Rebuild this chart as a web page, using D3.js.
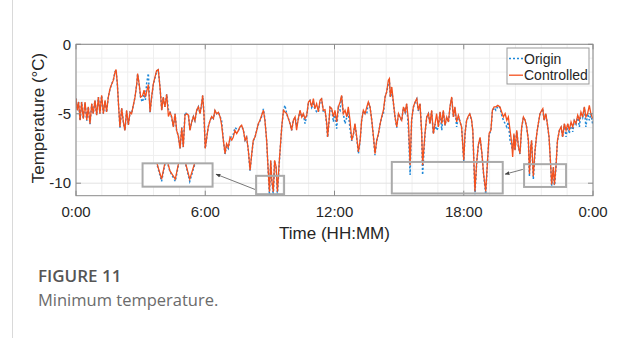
<!DOCTYPE html>
<html><head><meta charset="utf-8">
<script src="https://cdn.jsdelivr.net/npm/d3@7"></script>
<style>body{margin:0;background:#fff} svg{display:block}</style>
</head><body>
<svg id="c" width="622" height="338"></svg>
<script>
// ---- data (hours of day, °C) ----
const timeHours = [0.00,0.06,0.12,0.19,0.26,0.34,0.42,0.50,0.57,0.65,0.73,0.80,0.88,0.96,1.04,1.11,1.19,1.27,1.35,1.42,1.50,1.58,1.66,1.73,1.81,1.86,1.92,1.98,2.04,2.12,2.20,2.27,2.35,2.43,2.51,2.58,2.66,2.74,2.82,2.86,2.94,3.00,3.09,3.16,3.22,3.28,3.36,3.44,3.51,3.59,3.67,3.74,3.82,3.90,3.98,4.05,4.13,4.21,4.29,4.36,4.44,4.52,4.60,4.67,4.75,4.83,4.91,4.98,5.06,5.14,5.22,5.29,5.37,5.45,5.52,5.60,5.68,5.76,5.83,5.88,5.94,6.00,6.07,6.14,6.22,6.30,6.38,6.45,6.53,6.61,6.69,6.76,6.84,6.92,6.99,7.07,7.15,7.23,7.30,7.38,7.46,7.54,
7.61,7.69,7.77,7.85,7.92,8.00,8.08,8.16,8.23,8.31,8.39,8.46,8.54,8.62,8.70,8.77,8.85,8.93,8.98,9.04,9.09,9.16,9.22,9.29,9.35,9.44,9.55,9.63,9.70,9.78,9.86,9.94,10.01,10.09,10.17,10.24,10.32,10.40,10.48,10.55,10.63,10.71,10.79,10.86,10.94,11.02,11.09,11.17,11.25,11.33,11.40,11.48,11.56,11.64,11.68,11.75,11.79,
11.87,11.95,12.02,12.10,12.18,12.26,12.33,12.41,12.49,12.57,12.64,12.72,12.80,12.88,12.95,13.03,13.11,13.19,13.26,13.34,13.42,13.50,13.57,13.65,13.73,13.81,13.88,13.96,14.04,14.12,14.19,14.27,14.35,14.42,14.50,14.55,14.59,14.66,14.74,14.81,14.89,14.97,15.04,15.12,15.20,15.28,15.35,15.43,
15.51,15.58,15.66,15.74,15.82,15.89,15.97,16.05,16.09,16.20,16.28,16.36,16.43,16.51,16.59,16.67,16.74,16.82,16.90,16.98,17.05,17.13,17.21,17.29,17.36,17.44,17.52,17.59,17.67,17.75,17.83,17.90,17.94,18.00,18.06,18.13,18.20,18.28,18.36,18.42,18.52,18.60,18.68,18.76,18.84,18.92,19.02,19.10,19.18,19.26,19.33,19.41,19.49,19.58,
19.68,19.76,19.84,19.92,20.00,20.07,20.15,20.23,20.27,20.33,20.38,20.46,20.54,20.61,20.69,20.77,20.85,20.92,21.00,21.05,21.11,21.15,21.23,21.31,21.39,21.46,21.54,21.62,21.67,21.73,21.81,21.88,21.96,22.04,22.08,22.16,22.21,22.28,22.35,22.44,22.52,22.59,22.67,22.75,22.83,22.90,22.98,23.06,23.13,23.21,23.29,23.37,23.44,23.52,23.60,23.67,23.75,23.83,23.90,23.98];

const controlled = [-3.90,-4.75,-4.15,-5.47,-4.15,-5.35,-4.15,-5.47,-4.50,-5.71,-4.27,-5.00,-4.03,-5.10,-3.80,-5.00,-3.67,-5.00,-4.03,-4.87,-3.80,-3.20,-2.85,-2.60,-2.00,-1.82,-2.85,-4.50,-5.95,-4.60,-5.60,-6.20,-4.75,-5.80,-4.90,-5.00,-4.40,-3.80,-2.85,-2.10,-2.95,-3.80,-3.70,-3.30,-3.80,-3.40,-2.90,-4.87,-3.80,-2.85,-2.35,-1.90,-1.82,-3.10,-4.75,-3.80,-4.50,-3.60,-5.20,-4.90,-5.20,-5.95,-5.00,-6.20,-6.60,-7.50,-6.00,-7.40,-5.10,-5.00,-5.10,-6.20,-5.60,-5.20,-5.50,-4.75,-4.50,-5.00,-4.30,-3.67,-5.00,-7.50,-6.70,-5.95,-5.50,-5.20,-5.35,-4.75,-5.00,-4.90,-5.23,-5.80,-6.90,-7.87,-7.15,-7.40,-6.70,-6.90,-6.70,-6.20,-6.43,-6.20,
-5.95,-5.83,-6.19,-6.90,-6.67,-7.63,-9.06,-7.87,-6.91,-6.67,-6.19,-5.71,-5.47,-5.11,-4.75,-5.47,-6.91,-9.30,-10.62,-8.35,-9.78,-10.62,-8.35,-8.83,-10.62,-8.35,-5.95,-4.75,-4.87,-4.99,-5.35,-5.71,-6.19,-5.47,-5.23,-6.19,-5.35,-4.75,-5.23,-4.99,-5.35,-5.11,-4.15,-4.03,-4.51,-3.91,-4.63,-4.27,-4.87,-4.03,-3.91,-4.75,-4.70,-5.71,-6.67,-5.47,-4.51,
-4.63,-5.23,-4.75,-5.59,-4.51,-4.15,-3.67,-4.99,-4.75,-5.23,-4.51,-5.47,-6.91,-6.43,-5.71,-6.67,-7.75,-6.91,-5.47,-4.75,-4.99,-4.51,-4.15,-4.51,-5.47,-6.67,-7.87,-6.91,-6.43,-5.71,-5.23,-4.75,-3.79,-3.43,-2.59,-2.47,-3.79,-3.07,-4.27,-5.23,-5.95,-4.99,-5.23,-5.47,-4.51,-4.87,-4.27,-5.47,
-8.70,-5.47,-4.51,-4.15,-3.91,-4.75,-4.27,-6.43,-8.70,-6.43,-5.23,-4.99,-5.71,-4.75,-6.43,-5.71,-4.99,-5.95,-4.87,-5.71,-4.75,-5.83,-5.23,-5.59,-4.51,-3.79,-5.23,-4.51,-5.59,-5.11,-5.59,-5.95,-6.90,-8.35,-6.40,-5.50,-5.20,-5.00,-5.40,-6.20,-10.60,-8.50,-7.20,-6.70,-7.80,-9.30,-10.60,-8.50,-6.40,-6.20,-4.75,-4.50,-4.50,-4.40,
-4.51,-4.87,-5.23,-4.99,-5.47,-5.23,-6.19,-7.15,-8.11,-6.43,-7.63,-6.19,-7.39,-7.87,-5.95,-5.23,-5.47,-5.95,-6.91,-9.31,-7.39,-6.91,-9.50,-7.63,-6.43,-5.71,-4.99,-4.75,-4.63,-5.47,-4.99,-5.71,-6.67,-8.83,-10.10,-8.83,-10.10,-8.83,-6.91,-6.19,-5.95,-6.67,-5.71,-6.19,-5.71,-6.19,-5.59,-5.95,-5.47,-5.71,-5.11,-5.47,-4.87,-5.23,-4.51,-5.23,-4.99,-4.39,-4.99,-5.35];

const origin = [-3.90,-4.75,-4.15,-5.50,-4.15,-5.35,-4.20,-5.50,-4.50,-5.75,-4.30,-5.00,-4.05,-5.10,-3.80,-5.00,-3.70,-5.00,-4.05,-4.90,-3.80,-3.20,-2.85,-2.60,-2.00,-1.85,-2.90,-4.50,-6.00,-4.60,-5.60,-6.20,-4.80,-5.80,-4.90,-5.00,-4.40,-3.80,-2.85,-2.15,-3.00,-3.90,-4.15,-3.60,-4.00,-2.80,-2.10,-4.90,-3.85,-2.90,-2.40,-1.95,-1.85,-3.10,-4.75,-3.80,-4.50,-3.60,-4.70,-4.80,-5.30,-5.95,-5.00,-6.20,-6.60,-7.50,-6.00,-7.40,-4.90,-5.00,-5.10,-6.20,-5.60,-5.20,-5.50,-4.80,-4.50,-5.00,-4.30,-3.70,-5.00,-7.50,-6.70,-5.95,-5.50,-5.20,-5.35,-4.80,-5.00,-4.90,-5.20,-5.50,-6.90,-7.90,-7.30,-7.50,-6.80,-6.60,-6.50,-6.00,-6.10,-6.20,
-6.00,-5.85,-6.20,-6.90,-6.70,-7.65,-9.10,-7.90,-6.95,-6.70,-6.20,-5.80,-5.50,-5.20,-4.65,-5.40,-6.95,-9.40,-10.85,-8.40,-9.85,-10.85,-8.40,-8.90,-10.85,-8.45,-6.00,-4.75,-4.39,-5.00,-5.35,-5.75,-6.20,-5.50,-5.25,-5.83,-5.40,-4.80,-5.25,-5.00,-5.71,-5.15,-4.20,-4.05,-4.55,-4.27,-4.65,-4.87,-4.90,-4.05,-3.95,-4.80,-4.75,-5.83,-6.70,-5.50,-4.55,
-4.65,-5.59,-4.80,-6.07,-4.55,-4.75,-3.70,-5.00,-5.71,-5.25,-4.87,-6.07,-6.95,-6.50,-5.75,-6.70,-7.87,-6.95,-5.50,-4.80,-5.00,-4.99,-4.15,-4.55,-5.50,-6.70,-7.99,-6.95,-6.45,-5.75,-5.25,-4.99,-3.80,-3.45,-2.85,-2.60,-3.80,-3.40,-4.30,-5.25,-6.00,-5.00,-5.25,-5.50,-4.55,-4.90,-4.30,-6.07,
-9.40,-5.50,-4.55,-4.20,-3.95,-4.80,-4.30,-6.50,-9.40,-6.50,-5.25,-5.00,-5.75,-4.80,-6.45,-5.75,-6.19,-6.00,-4.90,-6.19,-4.80,-5.85,-5.25,-5.60,-4.55,-3.85,-5.25,-4.55,-5.95,-5.15,-5.60,-6.00,-6.90,-8.40,-6.45,-5.55,-5.25,-5.05,-5.45,-6.25,-10.80,-8.55,-7.25,-6.75,-7.85,-9.35,-10.80,-8.55,-6.45,-6.25,-4.80,-4.55,-4.75,-4.45,
-4.55,-5.10,-5.47,-5.71,-5.95,-5.59,-6.91,-7.39,-7.60,-6.50,-7.65,-6.25,-7.40,-7.90,-6.00,-5.25,-5.50,-6.00,-6.95,-9.50,-7.40,-6.95,-9.70,-7.65,-6.45,-5.75,-5.00,-4.80,-4.65,-5.50,-5.00,-5.75,-6.70,-8.85,-10.30,-8.85,-10.30,-8.85,-6.95,-6.20,-6.00,-6.70,-5.75,-6.67,-5.75,-6.43,-5.60,-6.31,-5.50,-5.75,-5.15,-5.95,-4.90,-5.25,-4.55,-5.95,-5.00,-5.47,-5.00,-5.71];

const seriesNames = ["Origin", "Controlled"];
const xTickHours = [0, 6, 12, 18, 24];
const xTickLabels = ["0:00", "6:00", "12:00", "18:00", "0:00"];
const yTickValues = [-10, -5, 0];
const xLabel = "Time (HH:MM)";
const yLabel = "Temperature (°C)";
const captionTitle = "FIGURE 11";
const captionText = "Minimum temperature.";

// annotation boxes in data units: [h0, h1, tTop, tBottom]
const boxLeftSmall  = [8.36, 9.66, -9.47, -10.79];
const boxLeftBig    = [3.09, 6.34, -8.57, -10.25];
const boxRightSmall = [20.80, 22.75, -8.63, -10.27];
const boxRightBig   = [14.66, 19.81, -8.47, -10.74];
const insetLeftView = [8.73, 9.65, -9.0, -11.4];
const arrowLeft  = [[8.31, -10.45], [6.50, -9.35]];
const arrowRight = [[20.74, -9.01], [19.92, -9.35]];

// ---- drawing ----
const svg = d3.select("#c");
const L = 76, R = 593, T = 44.3, B = 195.7;
const x = d3.scaleLinear().domain([0, 24]).range([L, R]);
const y = d3.scaleLinear().domain([-10.9, 0]).range([B, T]);
const FONT = "'Liberation Sans', Arial, Helvetica, sans-serif";
const ORANGE = "#f4511e", BLUE = "#1e88d8";

// page decoration
svg.append("line").attr("x1", 12.5).attr("x2", 12.5).attr("y1", 0).attr("y2", 338).attr("stroke", "#d9d9d9");

const data = timeHours.map((h, i) => ({h, o: origin[i], c: controlled[i]}));

// grid
const g = svg.append("g");
const minorX = d3.range(0, 24.001, 1.2).filter(v => Math.abs(v / 6 - Math.round(v / 6)) > 1e-6);
const minorY = d3.range(-10, 0.001, 1).filter(v => v % 5 !== 0);
g.selectAll(".mx").data(minorX).join("line").attr("x1", d => x(d)).attr("x2", d => x(d)).attr("y1", T).attr("y2", B).attr("stroke", "#efefef");
g.selectAll(".my").data(minorY).join("line").attr("y1", d => y(d)).attr("y2", d => y(d)).attr("x1", L).attr("x2", R).attr("stroke", "#efefef");
g.selectAll(".Mx").data(xTickHours).join("line").attr("x1", d => x(d)).attr("x2", d => x(d)).attr("y1", T).attr("y2", B).attr("stroke", "#e2e2e2");
g.selectAll(".My").data(yTickValues).join("line").attr("y1", d => y(d)).attr("y2", d => y(d)).attr("x1", L).attr("x2", R).attr("stroke", "#e2e2e2");

// clip
const defs = svg.append("defs");
defs.append("clipPath").attr("id", "plotclip").append("rect").attr("x", L).attr("y", T).attr("width", R - L).attr("height", B - T);
defs.append("marker").attr("id", "ah").attr("viewBox", "0 0 10 10").attr("refX", 9).attr("refY", 5)
  .attr("markerWidth", 6).attr("markerHeight", 6).attr("orient", "auto")
  .append("path").attr("d", "M0,1 L10,5 L0,9 z").attr("fill", "#444");

const lineO = d3.line().x(d => x(d.h)).y(d => y(d.o));
const lineC = d3.line().x(d => x(d.h)).y(d => y(d.c));
const plot = svg.append("g").attr("clip-path", "url(#plotclip)");
plot.append("path").datum(data).attr("d", lineO).attr("fill", "none").attr("stroke", BLUE).attr("stroke-width", 1.5).attr("stroke-dasharray", "2,2");
plot.append("path").datum(data).attr("d", lineC).attr("fill", "none").attr("stroke", ORANGE).attr("stroke-width", 1.3);

// frame + ticks
const frameColor = "#8a8a8a";
svg.append("rect").attr("x", L).attr("y", T).attr("width", R - L).attr("height", B - T).attr("fill", "none").attr("stroke", frameColor);
const tk = 5;
svg.selectAll(".xtb").data(xTickHours).join("line").attr("x1", d => x(d)).attr("x2", d => x(d)).attr("y1", B).attr("y2", B - tk).attr("stroke", frameColor);
svg.selectAll(".xtt").data(xTickHours).join("line").attr("x1", d => x(d)).attr("x2", d => x(d)).attr("y1", T).attr("y2", T + tk).attr("stroke", frameColor);
svg.selectAll(".ytl").data(yTickValues).join("line").attr("y1", d => y(d)).attr("y2", d => y(d)).attr("x1", L).attr("x2", L + tk).attr("stroke", frameColor);
svg.selectAll(".ytr").data(yTickValues).join("line").attr("y1", d => y(d)).attr("y2", d => y(d)).attr("x1", R).attr("x2", R - tk).attr("stroke", frameColor);

// tick labels
svg.selectAll(".xl").data(xTickHours).join("text").attr("x", d => x(d)).attr("y", 217)
  .attr("text-anchor", "middle").attr("font-family", FONT).attr("font-size", 15).attr("fill", "#262626")
  .text((d, i) => xTickLabels[i]);
svg.selectAll(".yl").data(yTickValues).join("text").attr("x", L - 5).attr("y", d => y(d) + 5.3)
  .attr("text-anchor", "end").attr("font-family", FONT).attr("font-size", 15).attr("fill", "#262626")
  .text(d => d);

// axis labels
svg.append("text").attr("x", (L + R) / 2).attr("y", 239).attr("text-anchor", "middle")
  .attr("font-family", FONT).attr("font-size", 17).attr("fill", "#262626").text(xLabel);
svg.append("text").attr("transform", `translate(44,${(T + B) / 2 - 2}) rotate(-90)`).attr("text-anchor", "middle")
  .attr("font-family", FONT).attr("font-size", 17).attr("fill", "#262626").text(yLabel);

// boxes
const boxStyle = sel => sel.attr("fill", "none").attr("stroke", "#aaaaaa").attr("stroke-width", 2);
function box(b) {
  return svg.append("rect").attr("x", x(b[0])).attr("y", y(b[2])).attr("width", x(b[1]) - x(b[0])).attr("height", y(b[3]) - y(b[2])).call(boxStyle);
}
// left inset (magnified view)
svg.append("rect").attr("x", x(boxLeftBig[0])).attr("y", y(boxLeftBig[2])).attr("width", x(boxLeftBig[1]) - x(boxLeftBig[0])).attr("height", y(boxLeftBig[3]) - y(boxLeftBig[2])).attr("fill", "#fff");
defs.append("clipPath").attr("id", "insetclip").append("rect").attr("x", x(boxLeftBig[0])).attr("y", y(boxLeftBig[2])).attr("width", x(boxLeftBig[1]) - x(boxLeftBig[0])).attr("height", y(boxLeftBig[3]) - y(boxLeftBig[2]));
const xi = d3.scaleLinear().domain([insetLeftView[0], insetLeftView[1]]).range([x(boxLeftBig[0]), x(boxLeftBig[1])]);
const yi = d3.scaleLinear().domain([insetLeftView[2], insetLeftView[3]]).range([y(boxLeftBig[2]), y(boxLeftBig[3])]);
const ig = svg.append("g").attr("clip-path", "url(#insetclip)");
ig.append("path").datum(data).attr("d", d3.line().x(d => xi(d.h)).y(d => yi(d.o))).attr("fill", "none").attr("stroke", BLUE).attr("stroke-width", 1.5).attr("stroke-dasharray", "2,2");
ig.append("path").datum(data).attr("d", d3.line().x(d => xi(d.h)).y(d => yi(d.c))).attr("fill", "none").attr("stroke", ORANGE).attr("stroke-width", 1.3);

[boxLeftSmall, boxLeftBig, boxRightSmall, boxRightBig].forEach(box);

// arrows
[arrowLeft, arrowRight].forEach(a => {
  svg.append("line").attr("x1", x(a[0][0])).attr("y1", y(a[0][1])).attr("x2", x(a[1][0])).attr("y2", y(a[1][1]))
    .attr("stroke", "#555").attr("stroke-width", 0.8).attr("marker-end", "url(#ah)");
});

// legend
const lg = svg.append("g");
lg.append("rect").attr("x", 507).attr("y", 48).attr("width", 82).attr("height", 36).attr("fill", "#fff").attr("stroke", "#999");
const rows = [{name: seriesNames[0], color: BLUE, dash: "2,2", w: 1.5}, {name: seriesNames[1], color: ORANGE, dash: null, w: 1.3}];
rows.forEach((r, i) => {
  const yy = 58.5 + i * 16.7;
  lg.append("line").attr("x1", 509).attr("x2", 523).attr("y1", yy).attr("y2", yy).attr("stroke", r.color).attr("stroke-width", r.w).attr("stroke-dasharray", r.dash);
  lg.append("text").attr("x", 524).attr("y", yy + 5).attr("font-family", FONT).attr("font-size", 14).attr("fill", "#262626").text(r.name);
});

// caption
svg.append("text").attr("x", 38).attr("y", 282).attr("font-family", "'Open Sans', sans-serif").attr("font-weight", 600).attr("font-size", 17).attr("fill", "#555").text(captionTitle);
svg.append("text").attr("x", 38).attr("y", 306).attr("font-family", "'Open Sans', sans-serif").attr("font-size", 16.5).attr("fill", "#6b6b6b").text(captionText);
</script>
</body></html>
